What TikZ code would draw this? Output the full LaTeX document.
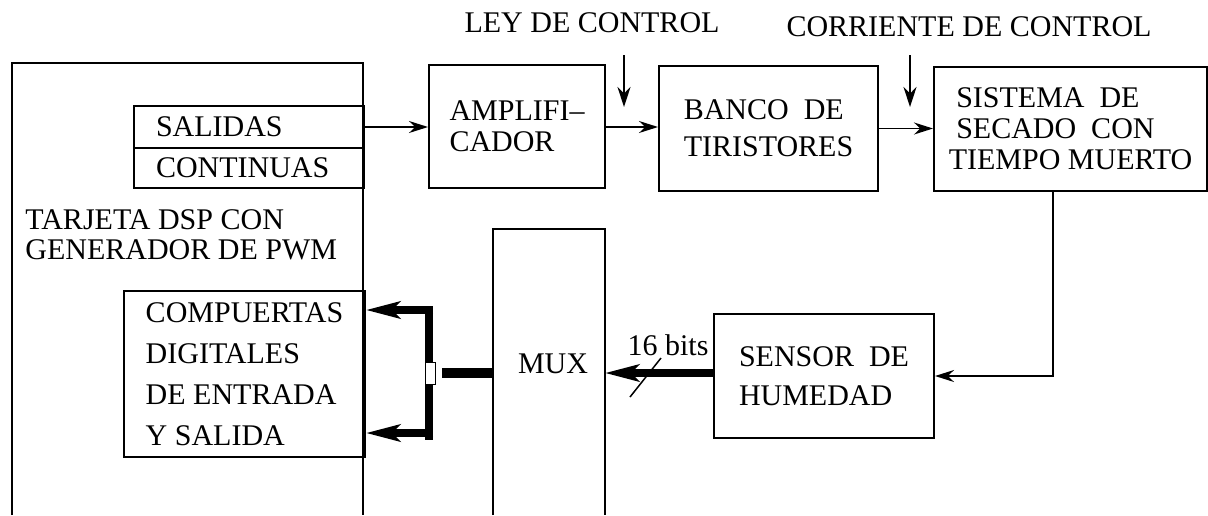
\documentclass[tikz,border=0pt]{standalone}
\usepackage{fontspec}
\setmainfont{Liberation Serif}
\usetikzlibrary{arrows.meta, positioning}
\newcommand{\pxl}{0.5pt}

\begin{document}
\begin{tikzpicture}[
        x=0.5pt, y=-0.5pt,
        wall/.style={line width=1pt},
        blk/.style={draw, line width=1pt, anchor=north west, inner xsep=0pt, inner ysep=0pt,
                    align=left, font=\fontsize{15}{#1}\selectfont},
        blk/.default=18,
        lbl/.style={inner sep=0pt, font=\fontsize{15}{15}\selectfont},
        sig/.style={-{Stealth[length=9.5pt, width=6pt]}, line width=0.8pt},
        ctl/.style={-{Stealth[length=10pt, width=6.5pt]}, line width=0.9pt},
        bus/.style={line width=4pt},
        busarr/.style={bus, -{Stealth[length=17pt, width=8.5pt, inset=4pt]}},
      ]
        \useasboundingbox (0,0) rectangle (1208,515);
        % tarjeta DSP (open at the bottom)
        \draw[wall] (12,515) |- (363,63) -- (363,515);
        \node[lbl, anchor=west, align=left] (dsp) at (25,235) {TARJETA DSP CON\\GENERADOR DE PWM};
        \node[blk, text width=186*\pxl, inner xsep=22*\pxl, minimum height=42*\pxl] (salidas) at (133,105) {SALIDAS};
        \node[blk, text width=186*\pxl, inner xsep=22*\pxl, minimum height=40*\pxl] (continuas) at (133,147) {CONTINUAS};
        \node[blk=20.5, minimum width=241*\pxl, minimum height=166*\pxl] (comp) at (123,290)
              {COMPUERTAS\\DIGITALES\\DE ENTRADA\\Y SALIDA};
        % cadena directa
        \node[blk=15.5, minimum width=176*\pxl, minimum height=123*\pxl] (amp) at (428,64) {AMPLIFI--\\CADOR};
        \node[blk=18.5, minimum width=219*\pxl, minimum height=125*\pxl] (banco) at (658,65) {BANCO~ DE\\TIRISTORES};
        \node[blk=15.5, minimum width=273*\pxl, minimum height=124*\pxl] (sistema) at (933,66)
              {~SISTEMA~ DE\\~SECADO~ CON\\TIEMPO MUERTO};
        \node[blk=19.5, minimum width=220*\pxl, minimum height=124*\pxl] (sensor) at (713,313) {SENSOR~ DE\\HUMEDAD};
        \node[lbl] (ley) at (592,23) {LEY DE CONTROL};
        \node[lbl] (corr) at (969,27) {CORRIENTE DE CONTROL};
        \coordinate (leyA) at (624,55);  \coordinate (leyB) at (624,107);
        \coordinate (corrA) at (910,55); \coordinate (corrB) at (910,107);
        \draw[ctl] (leyA) -- (leyB);
        \draw[ctl] (corrA) -- (corrB);
        \draw[sig] (salidas.east) -- (amp.west |- salidas.east);
        \draw[sig] (amp.east |- salidas.east) -- (banco.west |- salidas.east);
        \draw[sig] (banco.east) -- (sistema.west |- banco.east);
        \coordinate (fb) at (1053,190);
        \draw[sig] (fb) |- (sensor.east);
        % multiplexor (open at the bottom)
        \draw[wall] (493,515) |- (605,229) -- (605,515);
        \node[lbl] (mux) at (553,364) {MUX};
        \coordinate (muxR) at (605,373);
        \coordinate (muxL) at (493,373);
        \draw[busarr] (sensor.west |- muxR) -- (muxR);
        \draw[line width=0.75pt] (630,397) -- (661,358);
        \node[lbl] (bits) at (668,345) {16 bits};
        % bus hacia las compuertas
        \node[draw, line width=0.4pt, fill=white, minimum width=10*\pxl, minimum height=22*\pxl, inner sep=0pt] (jn) at (430,373) {};
        \coordinate (jr) at (442,373);
        \draw[line width=5pt] (muxL) -- (jr);
        \coordinate (barA) at (429,306); \coordinate (barB) at (429,440);
        \draw[bus] (barA) -- (jn.north -| barA);
        \draw[bus] (jn.south -| barB) -- (barB);
        \coordinate (inA) at (433,310); \coordinate (inB) at (433,433);
        \draw[busarr] (inA) -- (inA -| comp.east);
        \draw[busarr] (inB) -- (inB -| comp.east);
      \end{tikzpicture}
\end{document}
